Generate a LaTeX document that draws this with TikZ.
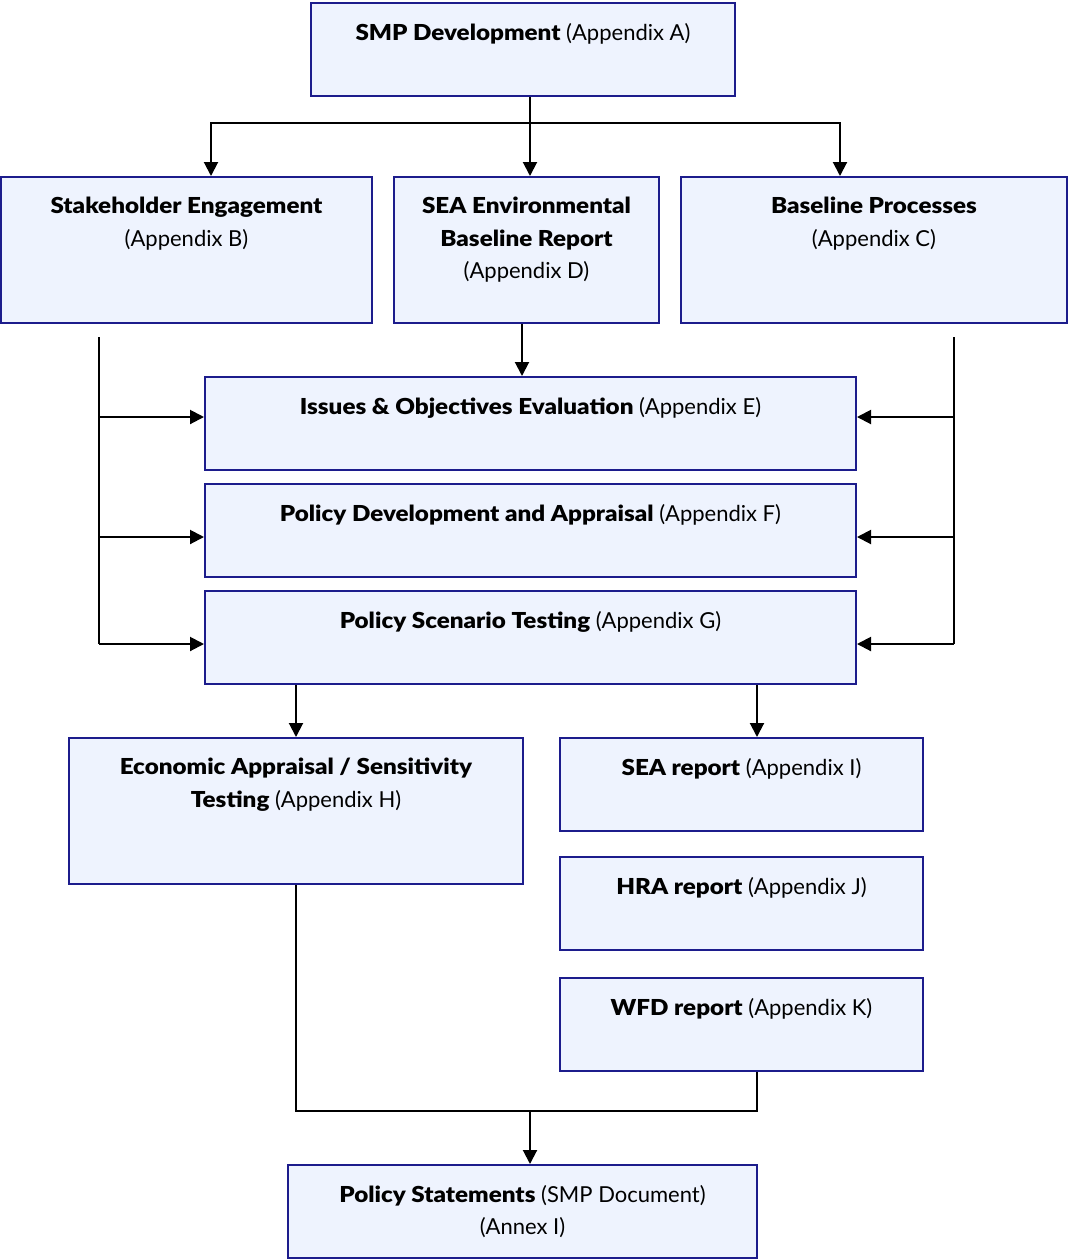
\documentclass[tikz,border=0pt]{standalone}
\usepackage{fontspec}
\setmainfont{Lato}[BoldFont={Lato Black}, BoldFeatures={FakeStretch=1.1}]
\usetikzlibrary{arrows.meta,positioning,calc}
\definecolor{boxline}{HTML}{1C1C8C}
\definecolor{boxfill}{HTML}{EEF3FE}

\begin{document}
\begin{tikzpicture}[x=0.5pt, y=-0.5pt, >={Triangle[length=7pt,width=7pt]}, line width=1pt]
\tikzset{
  box/.style={draw=boxline, fill=boxfill, line width=1pt, inner sep=0pt},
  lbl/.style={anchor=north, align=center, inner sep=0pt, yshift=-10pt,
    font=\fontsize{11}{16.3}\selectfont},
}
\useasboundingbox (0,0) rectangle (1069,1260);
% top row
\node[box, minimum width=212pt, minimum height=46.5pt, label={[lbl]north:{\textbf{SMP Development} (Appendix A)}}] (smp) at (523,49.5) {};
\node[box, minimum width=185.5pt, minimum height=73pt, label={[lbl]north:{\textbf{Stakeholder Engagement}\\(Appendix B)}}] (stake) at (186.5,250) {};
\node[box, minimum width=132.5pt, minimum height=73pt, label={[lbl]north:{\textbf{SEA Environmental}\\\textbf{Baseline Report}\\(Appendix D)}}] (seaenv) at (526.5,250) {};
\node[box, minimum width=193pt, minimum height=73pt, label={[lbl]north:{\textbf{Baseline Processes}\\(Appendix C)}}] (base) at (874,250) {};
% middle stack
\node[box, minimum width=325.5pt, minimum height=46.5pt, label={[lbl]north:{\textbf{Issues \& Objectives Evaluation} (Appendix E)}}] (issues) at (530.5,423.5) {};
\node[box, minimum width=325.5pt, minimum height=46.5pt, label={[lbl]north:{\textbf{Policy Development and Appraisal} (Appendix F)}}] (poldev) at (530.5,530.5) {};
\node[box, minimum width=325.5pt, minimum height=46.5pt, label={[lbl]north:{\textbf{Policy Scenario Testing} (Appendix G)}}] (scen) at (530.5,637.5) {};
% lower part
\node[box, minimum width=227pt, minimum height=73pt, label={[lbl]north:{\textbf{Economic Appraisal / Sensitivity}\\\textbf{Testing} (Appendix H)}}] (econ) at (296,811) {};
\node[box, minimum width=181.5pt, minimum height=46.5pt, label={[lbl]north:{\textbf{SEA report} (Appendix I)}}] (sear) at (741.5,784.5) {};
\node[box, minimum width=181.5pt, minimum height=46.5pt, label={[lbl]north:{\textbf{HRA report} (Appendix J)}}] (hra) at (741.5,903.5) {};
\node[box, minimum width=181.5pt, minimum height=46.5pt, label={[lbl]north:{\textbf{WFD report} (Appendix K)}}] (wfd) at (741.5,1024.5) {};
\node[box, minimum width=234.5pt, minimum height=46.5pt, label={[lbl]north:{\textbf{Policy Statements} (SMP Document)\\(Annex I)}}] (polst) at (522.5,1211.5) {};

\coordinate (split) at (530,123);
\coordinate (ltop) at (99,337);
\coordinate (rtop) at (954,337);
\coordinate (join) at (530,1111);

\draw (smp.south -| split) -- (split);
\draw[->] (split) -| ($(stake.north)+(24.5,0)$);
\draw[->] (split) -- (split |- seaenv.north);
\draw[->] (split) -| ($(base.north)+(-34,0)$);
\draw[->] ($(seaenv.south)+(-4.5,0)$) -- ($(seaenv.south |- issues.north)+(-4.5,0)$);

\draw (ltop) -- (99,644);
\draw (rtop) -- (954,644);
\foreach \y/\t in {417/issues, 537/poldev, 644/scen} {
  \draw[->] (99,\y) -- (\t.west |- 0,\y);
  \draw[->] (954,\y) -- (\t.east |- 0,\y);
}

\draw[->] (scen.south -| econ.north) -- (econ.north);
\draw[->] ($(scen.south -| sear.north)+(15.5,0)$) -- ($(sear.north)+(15.5,0)$);
\draw (econ.south) |- (join) -| ($(wfd.south)+(15.5,0)$);
\draw[->] (join) -- (join |- polst.north);
\end{tikzpicture}
\end{document}
